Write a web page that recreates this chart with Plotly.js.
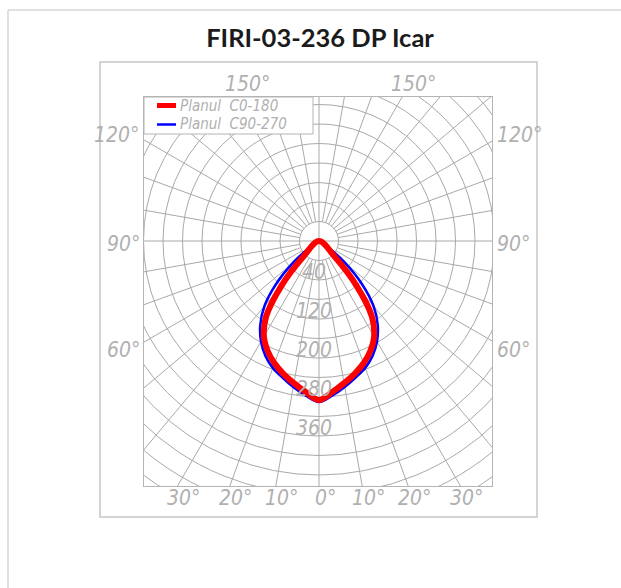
<!DOCTYPE html>
<html>
<head>
<meta charset="utf-8">
<script src="https://cdn.plot.ly/plotly-3.0.1.min.js"></script>
<style>
html,body{margin:0;padding:0;background:#fff;}
#chart{width:621px;height:588px;}
</style>
</head>
<body>
<div id="chart"></div>
<script>
// ---------------- data ----------------
const chartTitle = 'FIRI-03-236 DP Icar';
const gammaDeg = [0,5,10,15,20,25,30,35,40,45,50,55,60,65,70,75,80,85,90];
const planC0   = [326,311,296,282,267,249,226,189,120,45,0,0,0,0,0,0,0,0,0];
const planC180 = [326,311,296,282,267,249,226,189,120,45,0,0,0,0,0,0,0,0,0];
const planC90  = [330,318,304,290,277,260,238,210,174,124,70,25,0,0,0,0,0,0,0];
const planC270 = [330,318,304,290,277,260,238,210,174,124,70,25,0,0,0,0,0,0,0];
const seriesNames = ['Planul  C0-180', 'Planul  C90-270'];
const seriesColors = ['#ff0000', '#0000ff'];
const ringValues = [40,80,120,160,200,240,280,320,360,400,440,480,520,560,600,640,680];
const ringLabels = [40,120,200,280,360];
const spokeDeg = [0,10,20,30,40,50,60,70,80,90,100,110,120,130,140,150,160,170,180,190,200,210,220,230,240,250,260,270,280,290,300,310,320,330,340,350];
const bottomTicks = [-30,-20,-10,0,10,20,30];
const sideTicks = [60,90,120];
const topTicks = [150];

// ---------------- geometry (pixels) ----------------
const W = 621, H = 588;
const L = 144, R = 492, T = 97, B = 486;   // grid rectangle
const CX = 319, CY = 241;                  // pole of the diagram
const K = 19.5 / 40;                       // px per cd
const px = v => (v - L) / (R - L);
const py = v => (B - v) / (B - T);
const rad = d => d * Math.PI / 180;

const gridColor = '#a9a9a9';
const labelColor = '#b0b0b0';
const cadFont = 'Liberation Sans Narrow, DejaVu Sans Condensed, Liberation Sans, sans-serif';

// ---------------- traces ----------------
// polar -> cartesian; stop after the first zero (later zeros sit on the pole)
function lastIndex(arr) {
  const z = arr.indexOf(0);
  return z < 0 ? arr.length - 1 : z;
}
function curve(leftHalf, rightHalf) {
  const x = [], y = [];
  for (let i = lastIndex(leftHalf); i >= 0; i--) {
    const g = rad(gammaDeg[i]);
    x.push(-leftHalf[i] * Math.sin(g));
    y.push(-leftHalf[i] * Math.cos(g));
  }
  for (let i = 1; i <= lastIndex(rightHalf); i++) {
    const g = rad(gammaDeg[i]);
    x.push(rightHalf[i] * Math.sin(g));
    y.push(-rightHalf[i] * Math.cos(g));
  }
  return {x, y};
}
const cRed = curve(planC180, planC0);
const cBlue = curve(planC270, planC90);

const traces = [
  {type:'scatter', mode:'lines', name:seriesNames[1], x:cBlue.x, y:cBlue.y,
   line:{color:seriesColors[1], width:2.5, shape:'spline', smoothing:1}, showlegend:false, hoverinfo:'name'},
  {type:'scatter', mode:'lines', name:seriesNames[0], x:cRed.x, y:cRed.y,
   line:{color:seriesColors[0], width:6, shape:'spline', smoothing:1}, showlegend:false, hoverinfo:'name'}
];

// ---------------- grid shapes ----------------
const shapes = [];
ringValues.forEach(r => shapes.push({type:'circle', xref:'x', yref:'y', x0:-r, x1:r, y0:-r, y1:r,
  line:{color:gridColor, width:1}, layer:'below'}));
const r0 = ringValues[0], rMax = 2000;
spokeDeg.forEach(d => {
  const a = rad(d);
  const full = (d % 90 === 0);
  const rs = full ? 0 : r0;
  shapes.push({type:'line', xref:'x', yref:'y',
    x0: rs * Math.sin(a), y0: -rs * Math.cos(a),
    x1: rMax * Math.sin(a), y1: -rMax * Math.cos(a),
    line:{color:gridColor, width:1}, layer:'below'});
});

// outer frame box
shapes.push({type:'rect', xref:'paper', yref:'paper', x0:px(100), x1:px(537), y0:py(517), y1:py(62),
  line:{color:'#c6c6c6', width:1.5}, fillcolor:'rgba(0,0,0,0)', layer:'above'});
// page card border (top and left)
shapes.push({type:'line', xref:'paper', yref:'paper', x0:px(8), x1:px(625), y0:py(10), y1:py(10),
  line:{color:'#d6d6d6', width:1.5}});
shapes.push({type:'line', xref:'paper', yref:'paper', x0:px(8), x1:px(8), y0:py(10), y1:py(600),
  line:{color:'#d6d6d6', width:1.5}});

// legend box + swatches
shapes.push({type:'rect', xref:'paper', yref:'paper', x0:px(144), x1:px(313), y0:py(134), y1:py(97),
  line:{color:'#b4b4b4', width:1}, fillcolor:'#ffffff', layer:'above'});
const legendY = [105.5, 124.5];
const legendW = [5, 2.5];
legendY.forEach((yy, i) => shapes.push({type:'line', xref:'paper', yref:'paper',
  x0:px(157), x1:px(176), y0:py(yy), y1:py(yy), line:{color:seriesColors[i], width:legendW[i]}, layer:'above'}));

// ---------------- annotations ----------------
const annotations = [];
const labFont = {family:cadFont, size:21, color:labelColor, style:'italic'};
ringLabels.forEach(v => annotations.push({xref:'paper', yref:'paper', x:px(CX - 5), y:py(CY + v * K - 3),
  text:String(v), showarrow:false, xanchor:'center', yanchor:'top', font:labFont}));
bottomTicks.forEach(g => {
  const hx = CX + Math.tan(rad(g)) * (B - CY);
  annotations.push({xref:'paper', yref:'paper', x:px(hx + 6), y:py(498), text:Math.abs(g) + '°',
    showarrow:false, xanchor:'center', yanchor:'middle', font:labFont});
});
const sideY = {60:350, 90:244, 120:135};
sideTicks.forEach(g => {
  annotations.push({xref:'paper', yref:'paper', x:px(142), y:py(sideY[g]), text:g + '°',
    showarrow:false, xanchor:'right', yanchor:'middle', font:labFont});
  annotations.push({xref:'paper', yref:'paper', x:px(495), y:py(sideY[g]), text:g + '°',
    showarrow:false, xanchor:'left', yanchor:'middle', font:labFont});
});
topTicks.forEach(g => {
  const off = Math.tan(rad(180 - g)) * (CY - T);
  [-1, 1].forEach(s => annotations.push({xref:'paper', yref:'paper', x:px(CX + s * off + 12), y:py(84),
    text:g + '°', showarrow:false, xanchor:'center', yanchor:'middle', font:labFont}));
});
// legend texts
seriesNames.forEach((n, i) => annotations.push({xref:'paper', yref:'paper', x:px(178), y:py(legendY[i]),
  text:n, showarrow:false, xanchor:'left', yanchor:'middle',
  font:{family:cadFont, size:15, color:labelColor, style:'italic'}}));

// ---------------- layout ----------------
const layout = {
  width:W, height:H,
  margin:{l:L, r:W - R, t:T, b:H - B, pad:0},
  paper_bgcolor:'#ffffff', plot_bgcolor:'#ffffff',
  title:{text:chartTitle, x:320 / W, xanchor:'center', y:1 - 38 / H, yanchor:'middle',
    font:{family:'Lato, Open Sans, sans-serif', size:25.5, weight:'bold', color:'#1b1b1b'}},
  xaxis:{range:[(L - CX) / K, (R - CX) / K], showgrid:false, zeroline:false, showticklabels:false,
    ticks:'', showline:true, mirror:true, linecolor:'#b4b4b4', linewidth:1, fixedrange:true},
  yaxis:{range:[-(B - CY) / K, (CY - T) / K], showgrid:false, zeroline:false, showticklabels:false,
    ticks:'', showline:true, mirror:true, linecolor:'#b4b4b4', linewidth:1, fixedrange:true},
  shapes:shapes,
  annotations:annotations,
  showlegend:false
};

Plotly.newPlot('chart', traces, layout, {displayModeBar:false, staticPlot:true});
</script>
</body>
</html>
